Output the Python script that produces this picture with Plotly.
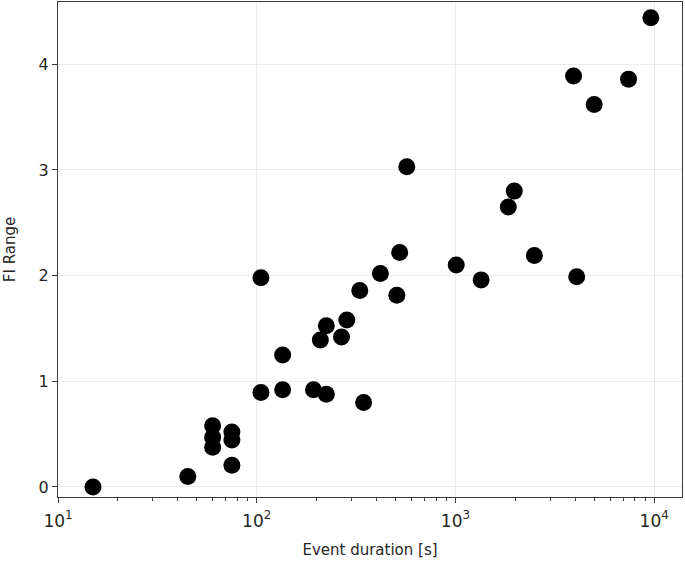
import plotly.graph_objects as go

duration_s = [15, 45, 60, 60, 60, 75, 75, 75, 105, 105, 135, 135, 193, 224, 209, 224,
              267, 284, 345, 330, 419, 524, 507, 1009, 9620, 3930, 7430, 4990, 569,
              1977, 1845, 2494, 1346, 4074]
fi_range = [0.0, 0.10, 0.58, 0.47, 0.375, 0.52, 0.445, 0.205, 1.98, 0.895, 1.25, 0.92,
            0.92, 0.877, 1.39, 1.525, 1.42, 1.58, 0.80, 1.86, 2.02, 2.22, 1.815, 2.10,
            4.44, 3.89, 3.86, 3.62, 3.03, 2.80, 2.65, 2.19, 1.96, 1.99]

x_tickvals = [10, 100, 1000, 10000]
x_ticktext = ["10<sup>1</sup>", "10<sup>2</sup>", "10<sup>3</sup>", "10<sup>4</sup>"]
y_tickvals = [0, 1, 2, 3, 4]

minor_vals = [m * 10 ** k for k in range(1, 5) for m in range(2, 10)]

fig = go.Figure()
fig.add_trace(go.Scatter(
    x=duration_s, y=fi_range, mode="markers",
    marker=dict(color="black", size=17, line=dict(width=0)),
    showlegend=False,
))

axis_common = dict(
    showline=True, mirror=True, linecolor="#3a3a3a", linewidth=1.3,
    ticks="outside", ticklen=5, tickwidth=1.2, tickcolor="#3a3a3a",
    showgrid=True, gridcolor="#ebebeb", gridwidth=1, zeroline=False,
    automargin=False,
)

fig.update_xaxes(
    type="log", range=[1, 4.14],
    tickvals=x_tickvals, ticktext=x_ticktext,
    tickfont=dict(family="DejaVu Sans", size=17, color="#262626"),
    ticklabelstandoff=3,
    minor=dict(ticks="outside", ticklen=3, tickwidth=1, tickcolor="#3a3a3a",
               tickvals=minor_vals, showgrid=False),
    title=dict(text="Event duration [s]", font=dict(family="DejaVu Sans", size=15, color="#262626"), standoff=14),
    **axis_common,
)
fig.update_yaxes(
    range=[-0.095, 4.59], tickvals=y_tickvals,
    tickfont=dict(family="DejaVu Sans", size=16, color="#262626"),
    title=dict(text="FI Range", font=dict(family="DejaVu Sans", size=15, color="#262626"), standoff=19),
    **axis_common,
)

fig.update_layout(
    width=685, height=563,
    margin=dict(l=58, r=3, t=2, b=66),
    plot_bgcolor="white", paper_bgcolor="white",
)

fig.write_html("out.html", config={"displayModeBar": False},
               post_script="document.body.style.margin='0px';")
